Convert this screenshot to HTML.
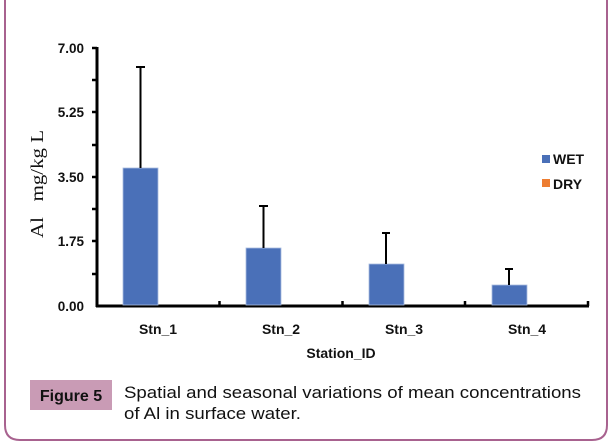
<!DOCTYPE html>
<html><head><meta charset="utf-8"><style>
html,body{margin:0;padding:0;background:#fff;width:613px;height:446px;overflow:hidden}
</style></head><body>
<svg width="613" height="446" viewBox="0 0 613 446" xmlns="http://www.w3.org/2000/svg">
<path d="M5,-20 L5,425 Q5,440 20,440 L592,440 Q607,440 607,425 L607,-20" fill="none" stroke="#a8628f" stroke-width="2"/>
<g font-family="Liberation Sans, sans-serif" font-weight="bold" font-size="13.5" fill="#111" text-anchor="end">
<text x="84" y="53">7.00</text>
<text x="84" y="117">5.25</text>
<text x="84" y="182">3.50</text>
<text x="84" y="246">1.75</text>
<text x="84" y="311">0.00</text>
</g>
<g stroke="#000" stroke-width="3">
<line x1="97" y1="47" x2="97" y2="307"/>
<line x1="96" y1="306" x2="589" y2="306"/>
</g>
<g stroke="#000" stroke-width="2.5">
<line x1="92" y1="48" x2="97" y2="48"/><line x1="92" y1="80" x2="97" y2="80"/>
<line x1="92" y1="112" x2="97" y2="112"/><line x1="92" y1="145" x2="97" y2="145"/>
<line x1="92" y1="177" x2="97" y2="177"/><line x1="92" y1="209" x2="97" y2="209"/>
<line x1="92" y1="241" x2="97" y2="241"/><line x1="92" y1="274" x2="97" y2="274"/>
<line x1="219.5" y1="301" x2="219.5" y2="306"/><line x1="342.5" y1="301" x2="342.5" y2="306"/>
<line x1="465" y1="301" x2="465" y2="306"/><line x1="588" y1="301" x2="588" y2="306"/>
</g>
<g fill="#4a70b8" stroke="#a9bde0" stroke-width="0.8">
<rect x="123" y="168" width="35" height="137"/>
<rect x="246" y="248" width="35" height="57"/>
<rect x="369" y="264" width="35" height="41"/>
<rect x="492" y="285" width="35" height="20"/>
</g>
<g stroke="#000" stroke-width="2">
<line x1="140.5" y1="67" x2="140.5" y2="168"/><line x1="136" y1="67" x2="145" y2="67"/>
<line x1="263.5" y1="206" x2="263.5" y2="248"/><line x1="259" y1="206" x2="268" y2="206"/>
<line x1="386" y1="233" x2="386" y2="264"/><line x1="382" y1="233" x2="390" y2="233"/>
<line x1="509" y1="269" x2="509" y2="285"/><line x1="505" y1="269" x2="513" y2="269"/>
</g>
<g font-family="Liberation Sans, sans-serif" font-weight="bold" font-size="14" fill="#111" text-anchor="middle">
<text x="158" y="334">Stn_1</text>
<text x="281" y="334">Stn_2</text>
<text x="404" y="334">Stn_3</text>
<text x="527" y="334">Stn_4</text>
<text x="341" y="358">Station_ID</text>
</g>
<rect x="542" y="155" width="8" height="8" fill="#4a70b8"/>
<rect x="542" y="179" width="8" height="8" fill="#ed7d31"/>
<g font-family="Liberation Sans, sans-serif" font-weight="bold" font-size="14" fill="#111">
<text x="553" y="164">WET</text>
<text x="553" y="189">DRY</text>
</g>
<text transform="translate(43,184) rotate(-90)" font-family="Liberation Serif, serif" font-size="18" fill="#111" text-anchor="middle" textLength="108" lengthAdjust="spacingAndGlyphs" xml:space="preserve">Al   mg/kg L</text>
<rect x="30" y="380" width="82" height="30" fill="#c99bb5"/>
<text x="71" y="401" font-family="Liberation Sans, sans-serif" font-weight="bold" font-size="16" fill="#111" text-anchor="middle">Figure 5</text>
<g font-family="Liberation Sans, sans-serif" font-size="16.5" fill="#111">
<text x="124" y="398" textLength="457" lengthAdjust="spacingAndGlyphs">Spatial and seasonal variations of mean concentrations</text>
<text x="124" y="419" textLength="177" lengthAdjust="spacingAndGlyphs">of Al in surface water.</text>
</g>
</svg>
</body></html>
